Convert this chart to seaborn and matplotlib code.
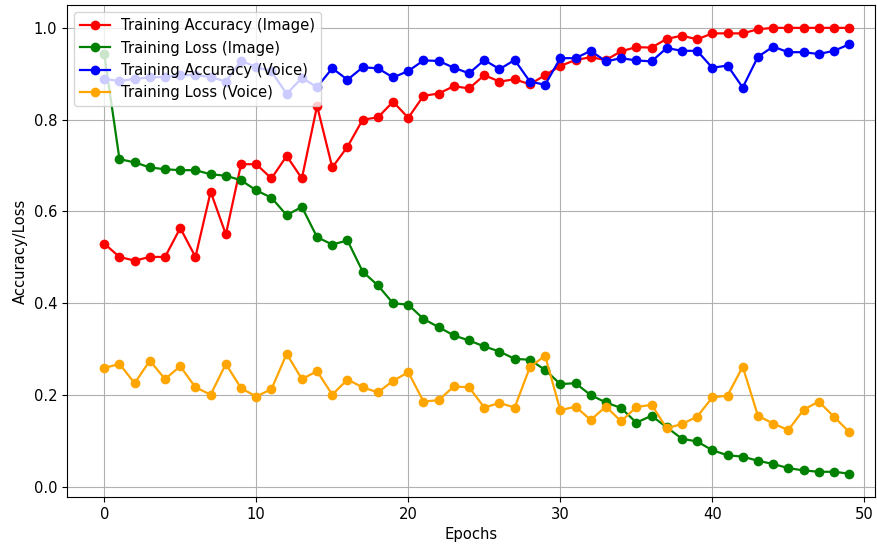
import numpy as np
import pandas as pd
import matplotlib
matplotlib.use("Agg")
import matplotlib.pyplot as plt
import seaborn as sns

epochs = list(range(50))

acc_image = [0.530, 0.501, 0.493, 0.501, 0.501, 0.564, 0.501, 0.643, 0.550, 0.703,
             0.703, 0.672, 0.721, 0.672, 0.830, 0.696, 0.741, 0.800, 0.805, 0.839,
             0.804, 0.852, 0.857, 0.873, 0.868, 0.897, 0.883, 0.888, 0.877, 0.897,
             0.917, 0.930, 0.936, 0.930, 0.949, 0.958, 0.957, 0.976, 0.983, 0.975,
             0.988, 0.988, 0.988, 0.997, 1.000, 1.000, 1.000, 1.000, 1.000, 1.000]

loss_image = [0.943, 0.714, 0.707, 0.696, 0.692, 0.690, 0.690, 0.681, 0.678, 0.668,
              0.646, 0.630, 0.592, 0.610, 0.544, 0.528, 0.537, 0.469, 0.439, 0.400,
              0.397, 0.366, 0.348, 0.330, 0.319, 0.306, 0.295, 0.279, 0.277, 0.255,
              0.224, 0.226, 0.200, 0.184, 0.172, 0.140, 0.155, 0.130, 0.105, 0.099,
              0.080, 0.069, 0.066, 0.057, 0.050, 0.041, 0.036, 0.033, 0.033, 0.029]

acc_voice = [0.889, 0.884, 0.889, 0.892, 0.893, 0.897, 0.897, 0.893, 0.883, 0.928,
             0.915, 0.905, 0.856, 0.891, 0.871, 0.912, 0.887, 0.914, 0.912, 0.892,
             0.906, 0.929, 0.928, 0.913, 0.901, 0.930, 0.910, 0.930, 0.883, 0.876,
             0.934, 0.934, 0.950, 0.927, 0.934, 0.929, 0.927, 0.956, 0.950, 0.950,
             0.913, 0.918, 0.870, 0.937, 0.959, 0.947, 0.947, 0.943, 0.950, 0.964]

loss_voice = [0.259, 0.268, 0.226, 0.275, 0.235, 0.263, 0.217, 0.201, 0.268, 0.215,
              0.197, 0.213, 0.290, 0.235, 0.252, 0.201, 0.234, 0.217, 0.206, 0.231,
              0.250, 0.186, 0.189, 0.219, 0.217, 0.173, 0.183, 0.173, 0.261, 0.286,
              0.167, 0.175, 0.146, 0.175, 0.143, 0.174, 0.179, 0.128, 0.137, 0.153,
              0.195, 0.199, 0.262, 0.155, 0.138, 0.124, 0.168, 0.186, 0.153, 0.120]

series_names = ["Training Accuracy (Image)", "Training Loss (Image)",
                "Training Accuracy (Voice)", "Training Loss (Voice)"]
series_colors = ["red", "green", "blue", "orange"]
series_values = [acc_image, loss_image, acc_voice, loss_voice]

df = pd.concat([pd.DataFrame({"Epochs": epochs, "value": v, "series": n})
                for n, v in zip(series_names, series_values)], ignore_index=True)

FS = 10.6
fig = plt.figure(figsize=(8.77, 5.45), dpi=100)
ax = fig.add_axes([0.0764, 0.088, 0.9213, 0.903])

sns.lineplot(data=df, x="Epochs", y="value", hue="series", hue_order=series_names,
             palette=dict(zip(series_names, series_colors)), marker="o",
             markersize=7, markeredgewidth=0, linewidth=1.6, ax=ax)

ax.set_xlim(-2.45, 50.7)
ax.set_ylim(-0.022, 1.05)
ax.set_xticks([0, 10, 20, 30, 40, 50])
ax.set_yticks([0.0, 0.2, 0.4, 0.6, 0.8, 1.0])
ax.grid(True, color="#b0b0b0", linewidth=0.8)
ax.set_axisbelow(True)
ax.set_xlabel("Epochs", fontsize=FS)
ax.set_ylabel("Accuracy/Loss", fontsize=FS)
ax.tick_params(labelsize=FS)
ax.legend(loc="upper left", fontsize=FS, title=None, framealpha=0.8)

fig.savefig("out.png", dpi=100)
